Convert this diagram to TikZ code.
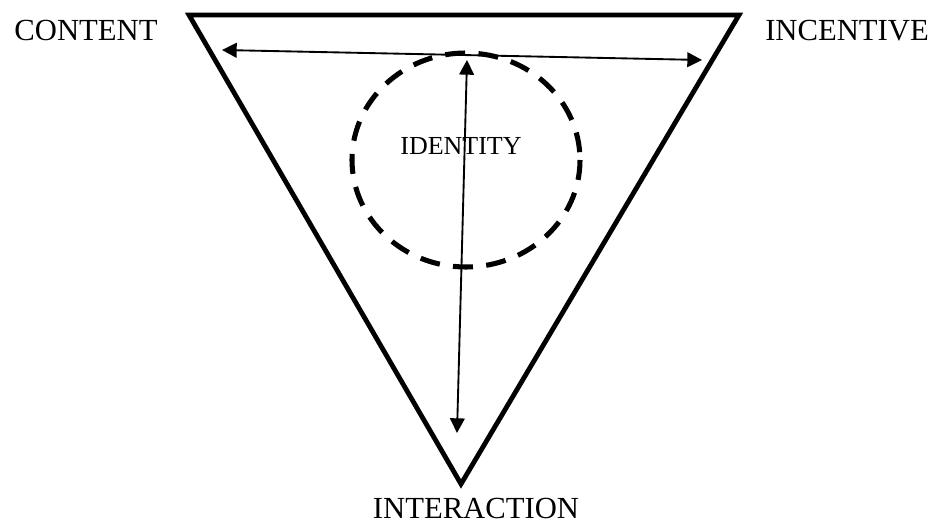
\documentclass[tikz,border=0pt]{standalone}
\usepackage{fontspec}
\setmainfont{Liberation Serif}
\usetikzlibrary{arrows.meta,positioning}

\begin{document}
\begin{tikzpicture}[x=0.75pt,y=-0.75pt,
    tri/.style={draw=black, line width=3.6pt, line join=miter},
    ring/.style={draw=black, line width=3.8pt, dash pattern=on 15pt off 10pt},
    lbl/.style={font=\fontsize{23}{26}\selectfont, inner sep=0pt},
    arr/.style={{Triangle[length=11pt,width=11pt]}-{Triangle[length=11pt,width=11pt]}, draw=black, line width=1.4pt}
  ]
    \useasboundingbox (0,0) rectangle (938,523);

    % Triangle corners
    \coordinate (tl) at (189,15);
    \coordinate (tr) at (739,15);
    \coordinate (bt) at (461,484);
    \draw[tri] (tl) -- (tr) -- (bt) -- cycle;

    % Identity circle
    \coordinate (ctr) at (466,160);
    \draw[ring] (ctr) ellipse [x radius=114, y radius=107];
    \node[lbl, font=\fontsize{19.5}{22}\selectfont] (identity) at (461,146) {IDENTITY};

    % Corner labels
    \node[lbl] (content) at (86,31) {CONTENT};
    \node[lbl] (incentive) at (847,31) {INCENTIVE};
    \node[lbl] (interaction) at (476,508) {INTERACTION};

    % Arrow ends
    \coordinate (h1) at (222,50);
    \coordinate (h2) at (702,60);
    \coordinate (v1) at (467,60);
    \coordinate (v2) at (457,433);
    \draw[arr] (h1) -- (h2);
    \draw[arr] (v1) -- (v2);

  \end{tikzpicture}
\end{document}
